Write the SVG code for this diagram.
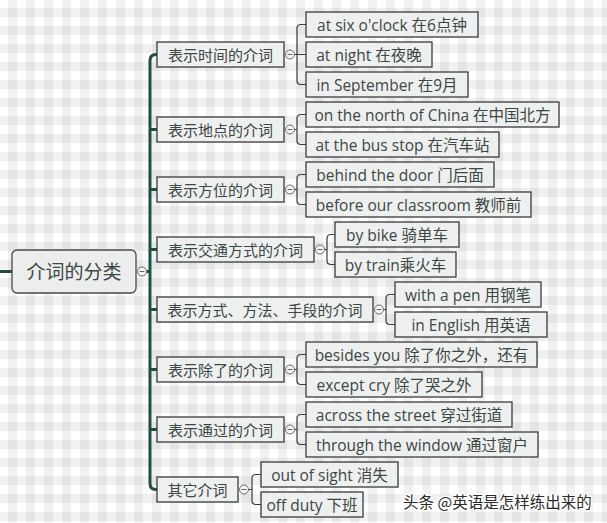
<svg xmlns="http://www.w3.org/2000/svg" width="607" height="523" viewBox="0 0 607 523">
<defs>
<pattern id="plaid" x="8" y="8" width="18" height="18" patternUnits="userSpaceOnUse">
<rect width="18" height="18" fill="#ffffff"/>
<rect x="0" y="0" width="9" height="18" fill="#000" fill-opacity="0.055"/>
<rect x="0" y="0" width="18" height="9" fill="#000" fill-opacity="0.055"/>
</pattern>
</defs>
<style>
.box{fill:#eef0ef;stroke:#3a3a3a;stroke-width:1.3}
.root{fill:#eceeed;stroke:#4a4a4a;stroke-width:1.3}
.t{font-family:"Open Sans","Noto Sans CJK SC",sans-serif;font-size:15px;fill:#3b4744;text-anchor:middle;dominant-baseline:central}
.l{font-size:15.5px}
.rt{font-family:"Open Sans","Noto Sans CJK SC",sans-serif;font-size:19px;fill:#3b4744;text-anchor:middle;dominant-baseline:central}
.trunk{fill:none;stroke:#1e4d43;stroke-width:3}
.br{fill:none;stroke:#2f3f3b;stroke-width:1.2}
.col{fill:#f4f5f4;stroke:#666;stroke-width:1}
.minus{stroke:#666;stroke-width:1}
.wm{font-family:"Noto Sans CJK SC",sans-serif;font-size:15.5px;fill:#2a2a2a;stroke:#ffffff;stroke-width:3;paint-order:stroke;stroke-linejoin:round}
</style>
<rect width="607" height="523" fill="url(#plaid)"/>

<g id="connectors">
<path class="trunk" d="M0,271.5 H12"/>
<path class="trunk" d="M146.5,271.5 H150"/>
<path class="trunk" d="M157,54.5 H156 Q150,54.5 150,60.5 V483.5 Q150,489.5 156,489.5 H157"/>
<path class="trunk" d="M150,129.5 H157 M150,189.5 H157 M150,249.5 H157 M150,309.5 H157 M150,369.5 H157 M150,429.5 H157"/>
<path class="br" d="M294.5,54.5 H306 M306,24.5 H301 Q297,24.5 297,28.5 V80.5 Q297,84.5 301,84.5 H306"/>
<path class="br" d="M294.5,129.5 H297 M306,114.5 H301 Q297,114.5 297,118.5 V140.5 Q297,144.5 301,144.5 H306"/>
<path class="br" d="M294.5,189.5 H297 M306,174.5 H301 Q297,174.5 297,178.5 V200.5 Q297,204.5 301,204.5 H306"/>
<path class="br" d="M324.5,249.5 H327 M335,234.5 H331 Q327,234.5 327,238.5 V260.5 Q327,264.5 331,264.5 H335"/>
<path class="br" d="M383.5,309.5 H386 M395,294.5 H390 Q386,294.5 386,298.5 V320.5 Q386,324.5 390,324.5 H395"/>
<path class="br" d="M294.5,369.5 H297 M306,354.5 H301 Q297,354.5 297,358.5 V380.5 Q297,384.5 301,384.5 H306"/>
<path class="br" d="M294.5,429.5 H297 M306,414.5 H301 Q297,414.5 297,418.5 V440.5 Q297,444.5 301,444.5 H306"/>
<path class="br" d="M248.5,489.5 H252 M261,474.5 H256 Q252,474.5 252,478.5 V500.5 Q252,504.5 256,504.5 H261"/>
</g>

<g id="root">
<rect class="root" x="12" y="250" width="124" height="43" rx="5"/>
<text class="rt" x="74" y="271.5">介词的分类</text>
<circle class="col" cx="142" cy="271.5" r="4.5"/><path class="minus" d="M139.5,271.5 H144.5"/>
</g>

<g id="n-time">
<rect class="box" x="157" y="42" width="127" height="25"/>
<text class="t" x="220.5" y="54.5">表示时间的介词</text>
<circle class="col" cx="290" cy="54.5" r="4.5"/><path class="minus" d="M287.5,54.5 H292.5"/>
</g>
<g id="n-time-1"><rect class="box" x="306" y="12" width="172" height="25"/><text class="t l" x="392" y="24.5">at six o'clock 在6点钟</text></g>
<g id="n-time-2"><rect class="box" x="306" y="42" width="126" height="25"/><text class="t l" x="369" y="54.5">at night 在夜晚</text></g>
<g id="n-time-3"><rect class="box" x="306" y="72" width="162" height="25"/><text class="t l" x="387" y="84.5">in September 在9月</text></g>

<g id="n-place">
<rect class="box" x="157" y="117" width="127" height="25"/>
<text class="t" x="220.5" y="129.5">表示地点的介词</text>
<circle class="col" cx="290" cy="129.5" r="4.5"/><path class="minus" d="M287.5,129.5 H292.5"/>
</g>
<g id="n-place-1"><rect class="box" x="306" y="102" width="253" height="25"/><text class="t l" x="432.5" y="114.5">on the north of China 在中国北方</text></g>
<g id="n-place-2"><rect class="box" x="306" y="132" width="193" height="25"/><text class="t l" x="402.5" y="144.5">at the bus stop 在汽车站</text></g>

<g id="n-dir">
<rect class="box" x="157" y="177" width="127" height="25"/>
<text class="t" x="220.5" y="189.5">表示方位的介词</text>
<circle class="col" cx="290" cy="189.5" r="4.5"/><path class="minus" d="M287.5,189.5 H292.5"/>
</g>
<g id="n-dir-1"><rect class="box" x="306" y="162" width="188" height="25"/><text class="t l" x="400" y="174.5">behind the door 门后面</text></g>
<g id="n-dir-2"><rect class="box" x="306" y="192" width="225" height="25"/><text class="t l" x="418.5" y="204.5">before our classroom 教师前</text></g>

<g id="n-traffic">
<rect class="box" x="157" y="237" width="157" height="25"/>
<text class="t" x="235.5" y="249.5">表示交通方式的介词</text>
<circle class="col" cx="320" cy="249.5" r="4.5"/><path class="minus" d="M317.5,249.5 H322.5"/>
</g>
<g id="n-traffic-1"><rect class="box" x="335" y="222" width="124" height="25"/><text class="t l" x="397" y="234.5">by bike 骑单车</text></g>
<g id="n-traffic-2"><rect class="box" x="335" y="252" width="121" height="25"/><text class="t l" x="395.5" y="264.5">by train乘火车</text></g>

<g id="n-manner">
<rect class="box" x="157" y="297" width="216" height="25"/>
<text class="t" x="265" y="309.5">表示方式、方法、手段的介词</text>
<circle class="col" cx="379" cy="309.5" r="4.5"/><path class="minus" d="M376.5,309.5 H381.5"/>
</g>
<g id="n-manner-1"><rect class="box" x="395" y="282" width="146" height="25"/><text class="t l" x="468" y="294.5">with a pen 用钢笔</text></g>
<g id="n-manner-2"><rect class="box" x="395" y="312" width="152" height="25"/><text class="t l" x="471" y="324.5">in English 用英语</text></g>

<g id="n-except">
<rect class="box" x="157" y="357" width="127" height="25"/>
<text class="t" x="220.5" y="369.5">表示除了的介词</text>
<circle class="col" cx="290" cy="369.5" r="4.5"/><path class="minus" d="M287.5,369.5 H292.5"/>
</g>
<g id="n-except-1"><rect class="box" x="306" y="342" width="231" height="25"/><text class="t l" x="421.5" y="354.5">besides you 除了你之外，还有</text></g>
<g id="n-except-2"><rect class="box" x="306" y="372" width="176" height="25"/><text class="t l" x="394" y="384.5">except cry 除了哭之外</text></g>

<g id="n-through">
<rect class="box" x="157" y="417" width="127" height="25"/>
<text class="t" x="220.5" y="429.5">表示通过的介词</text>
<circle class="col" cx="290" cy="429.5" r="4.5"/><path class="minus" d="M287.5,429.5 H292.5"/>
</g>
<g id="n-through-1"><rect class="box" x="306" y="402" width="206" height="25"/><text class="t l" x="409" y="414.5">across the street 穿过街道</text></g>
<g id="n-through-2"><rect class="box" x="306" y="432" width="232" height="25"/><text class="t l" x="422" y="444.5">through the window 通过窗户</text></g>

<g id="n-other">
<rect class="box" x="157" y="477" width="81" height="25"/>
<text class="t" x="197.5" y="489.5">其它介词</text>
<circle class="col" cx="244" cy="489.5" r="4.5"/><path class="minus" d="M241.5,489.5 H246.5"/>
</g>
<g id="n-other-1"><rect class="box" x="261" y="462" width="137" height="25"/><text class="t l" x="329.5" y="474.5">out of sight 消失</text></g>
<g id="n-other-2"><rect class="box" x="261" y="492" width="102" height="25"/><text class="t l" x="312" y="504.5">off duty 下班</text></g>

<text class="wm" x="403" y="508">头条 @英语是怎样练出来的</text>
</svg>
